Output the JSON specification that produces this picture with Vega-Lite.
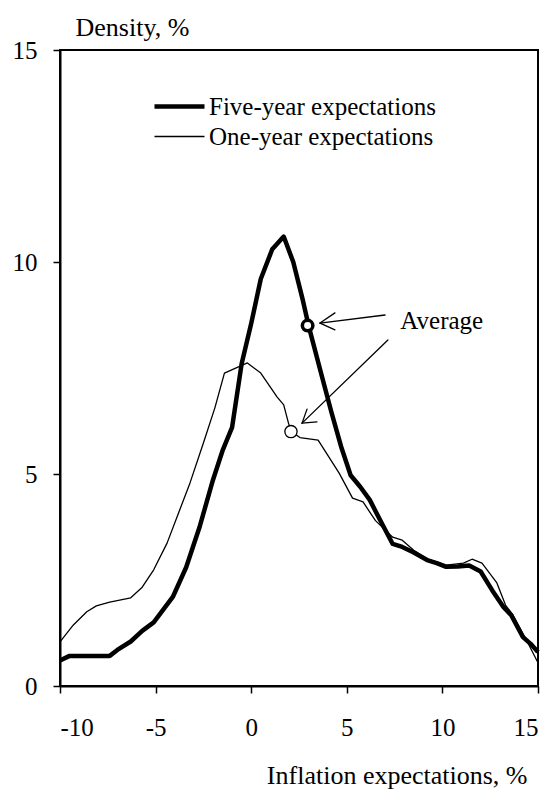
{
  "$schema": "https://vega.github.io/schema/vega-lite/v6.json",
  "width": 478,
  "height": 636,
  "autosize": {"type": "none"},
  "padding": {"left": 60, "top": 50, "right": 17, "bottom": 105},
  "background": "white",
  "config": {
    "font": "Liberation Serif",
    "view": {"stroke": "black", "strokeWidth": 2},
    "axis": {
      "domainColor": "black", "domainWidth": 2,
      "tickColor": "black", "tickWidth": 1.5, "tickSize": 7,
      "labelFont": "Liberation Serif", "labelFontSize": 25, "labelColor": "black",
      "titleFont": "Liberation Serif", "titleFontSize": 26, "titleFontWeight": "normal", "titleColor": "black",
      "grid": false
    }
  },
  "datasets": {
    "curves": [
      {"series": "Five-year expectations", "x": -10, "y": 0.6},
      {"series": "Five-year expectations", "x": -9.5, "y": 0.71},
      {"series": "Five-year expectations", "x": -9, "y": 0.71},
      {"series": "Five-year expectations", "x": -8.5, "y": 0.71},
      {"series": "Five-year expectations", "x": -8, "y": 0.71},
      {"series": "Five-year expectations", "x": -7.4, "y": 0.71},
      {"series": "Five-year expectations", "x": -7, "y": 0.85},
      {"series": "Five-year expectations", "x": -6.3, "y": 1.05},
      {"series": "Five-year expectations", "x": -5.7, "y": 1.3},
      {"series": "Five-year expectations", "x": -5.1, "y": 1.5},
      {"series": "Five-year expectations", "x": -4.6, "y": 1.8},
      {"series": "Five-year expectations", "x": -4.1, "y": 2.1},
      {"series": "Five-year expectations", "x": -3.4, "y": 2.8},
      {"series": "Five-year expectations", "x": -2.7, "y": 3.75},
      {"series": "Five-year expectations", "x": -2, "y": 4.86},
      {"series": "Five-year expectations", "x": -1.5, "y": 5.55},
      {"series": "Five-year expectations", "x": -1, "y": 6.1},
      {"series": "Five-year expectations", "x": -0.5, "y": 7.6},
      {"series": "Five-year expectations", "x": 0, "y": 8.55},
      {"series": "Five-year expectations", "x": 0.5, "y": 9.6},
      {"series": "Five-year expectations", "x": 1.1, "y": 10.3},
      {"series": "Five-year expectations", "x": 1.7, "y": 10.6},
      {"series": "Five-year expectations", "x": 2.2, "y": 10.0},
      {"series": "Five-year expectations", "x": 2.7, "y": 9.1},
      {"series": "Five-year expectations", "x": 3.0, "y": 8.5},
      {"series": "Five-year expectations", "x": 3.7, "y": 7.3},
      {"series": "Five-year expectations", "x": 4.2, "y": 6.45},
      {"series": "Five-year expectations", "x": 4.7, "y": 5.65},
      {"series": "Five-year expectations", "x": 5.2, "y": 4.97},
      {"series": "Five-year expectations", "x": 5.7, "y": 4.7},
      {"series": "Five-year expectations", "x": 6.2, "y": 4.39},
      {"series": "Five-year expectations", "x": 6.7, "y": 3.95},
      {"series": "Five-year expectations", "x": 7.4, "y": 3.35},
      {"series": "Five-year expectations", "x": 7.9, "y": 3.28},
      {"series": "Five-year expectations", "x": 8.5, "y": 3.15},
      {"series": "Five-year expectations", "x": 9.2, "y": 2.97},
      {"series": "Five-year expectations", "x": 9.7, "y": 2.9},
      {"series": "Five-year expectations", "x": 10.2, "y": 2.81},
      {"series": "Five-year expectations", "x": 10.8, "y": 2.82},
      {"series": "Five-year expectations", "x": 11.4, "y": 2.84},
      {"series": "Five-year expectations", "x": 12.0, "y": 2.7},
      {"series": "Five-year expectations", "x": 12.6, "y": 2.26},
      {"series": "Five-year expectations", "x": 13.2, "y": 1.86},
      {"series": "Five-year expectations", "x": 13.6, "y": 1.67},
      {"series": "Five-year expectations", "x": 14.2, "y": 1.16},
      {"series": "Five-year expectations", "x": 14.6, "y": 1.0},
      {"series": "Five-year expectations", "x": 15, "y": 0.8},
      {"series": "One-year expectations", "x": -10, "y": 1.04},
      {"series": "One-year expectations", "x": -9.3, "y": 1.44},
      {"series": "One-year expectations", "x": -8.6, "y": 1.75},
      {"series": "One-year expectations", "x": -8.1, "y": 1.89},
      {"series": "One-year expectations", "x": -7.4, "y": 1.98},
      {"series": "One-year expectations", "x": -6.3, "y": 2.08},
      {"series": "One-year expectations", "x": -5.7, "y": 2.33},
      {"series": "One-year expectations", "x": -5.1, "y": 2.74},
      {"series": "One-year expectations", "x": -4.4, "y": 3.37},
      {"series": "One-year expectations", "x": -3.8, "y": 4.08},
      {"series": "One-year expectations", "x": -3.2, "y": 4.79},
      {"series": "One-year expectations", "x": -2.5, "y": 5.73},
      {"series": "One-year expectations", "x": -1.9, "y": 6.56},
      {"series": "One-year expectations", "x": -1.4, "y": 7.38},
      {"series": "One-year expectations", "x": -0.2, "y": 7.62},
      {"series": "One-year expectations", "x": 0.5, "y": 7.38},
      {"series": "One-year expectations", "x": 1.35, "y": 6.82},
      {"series": "One-year expectations", "x": 1.7, "y": 6.63},
      {"series": "One-year expectations", "x": 1.95, "y": 6.2},
      {"series": "One-year expectations", "x": 2.1, "y": 6.0},
      {"series": "One-year expectations", "x": 2.55, "y": 5.86},
      {"series": "One-year expectations", "x": 3.5, "y": 5.8},
      {"series": "One-year expectations", "x": 4.6, "y": 5.02},
      {"series": "One-year expectations", "x": 5.3, "y": 4.43},
      {"series": "One-year expectations", "x": 5.85, "y": 4.34},
      {"series": "One-year expectations", "x": 6.5, "y": 3.9},
      {"series": "One-year expectations", "x": 7.4, "y": 3.51},
      {"series": "One-year expectations", "x": 7.9, "y": 3.44},
      {"series": "One-year expectations", "x": 8.5, "y": 3.2},
      {"series": "One-year expectations", "x": 9.2, "y": 3.0},
      {"series": "One-year expectations", "x": 10.2, "y": 2.85},
      {"series": "One-year expectations", "x": 11.1, "y": 2.9},
      {"series": "One-year expectations", "x": 11.55, "y": 2.99},
      {"series": "One-year expectations", "x": 12.07, "y": 2.9},
      {"series": "One-year expectations", "x": 12.85, "y": 2.43},
      {"series": "One-year expectations", "x": 13.3, "y": 1.91},
      {"series": "One-year expectations", "x": 13.7, "y": 1.67},
      {"series": "One-year expectations", "x": 14.4, "y": 1.08},
      {"series": "One-year expectations", "x": 15, "y": 0.55}
    ],
    "averages": [
      {"series": "Five-year expectations", "x": 2.95, "y": 8.5},
      {"series": "One-year expectations", "x": 2.08, "y": 6.0}
    ],
    "arrows": [
      {"x": 7.0, "y": 8.75, "x2": 3.6, "y2": 8.56},
      {"x": 4.38, "y": 8.8, "x2": 3.6, "y2": 8.56},
      {"x": 4.38, "y": 8.4, "x2": 3.6, "y2": 8.56},
      {"x": 7.15, "y": 8.16, "x2": 2.66, "y2": 6.2},
      {"x": 2.92, "y": 6.53, "x2": 2.66, "y2": 6.2},
      {"x": 3.44, "y": 6.23, "x2": 2.66, "y2": 6.2}
    ],
    "labels": [
      {"text": "Average", "x": 7.8, "y": 8.6}
    ]
  },
  "layer": [
    {
      "data": {"name": "curves"},
      "mark": {"type": "line", "color": "black", "strokeJoin": "round"},
      "encoding": {
        "x": {"field": "x", "type": "quantitative",
              "scale": {"domain": [-10, 15], "nice": false, "zero": false},
              "axis": {"values": [-10, -5, 0, 5, 10, 15], "labelPadding": 22, "labelExpr": "'' + datum.value",
                       "title": "Inflation expectations, %", "titleAnchor": "end", "titleAlign": "right",
                       "titleX": 467, "titleY": 89, "titleBaseline": "middle"}},
        "y": {"field": "y", "type": "quantitative",
              "scale": {"domain": [0, 15], "nice": false},
              "axis": {"values": [0, 5, 10, 15], "labelPadding": 16, "labelExpr": "'' + datum.value",
                       "title": "Density, %", "titleAngle": 0, "titleAlign": "left", "titleBaseline": "middle",
                       "titleX": 15, "titleY": -23}},
        "strokeWidth": {"field": "series", "type": "nominal",
                        "scale": {"domain": ["Five-year expectations", "One-year expectations"], "range": [4.5, 1.3]},
                        "legend": {"title": null, "orient": "none", "legendX": 107, "legendY": 44,
                                   "symbolType": "M-2.5,0H2.5", "symbolSize": 400, "symbolStrokeColor": "black",
                                   "symbolFillColor": "transparent",
                                   "labelFont": "Liberation Serif", "labelFontSize": 25, "labelColor": "black",
                                   "labelLimit": 0, "labelOffset": 17, "rowPadding": 4, "padding": 0}}
      }
    },
    {
      "data": {"name": "averages"},
      "transform": [{"filter": "datum.series === 'Five-year expectations'"}],
      "mark": {"type": "point", "filled": true, "fill": "white", "stroke": "black", "strokeWidth": 3.5, "size": 110, "opacity": 1},
      "encoding": {
        "x": {"field": "x", "type": "quantitative"},
        "y": {"field": "y", "type": "quantitative"}
      }
    },
    {
      "data": {"name": "averages"},
      "transform": [{"filter": "datum.series === 'One-year expectations'"}],
      "mark": {"type": "point", "filled": true, "fill": "white", "stroke": "black", "strokeWidth": 1.3, "size": 150, "opacity": 1},
      "encoding": {
        "x": {"field": "x", "type": "quantitative"},
        "y": {"field": "y", "type": "quantitative"}
      }
    },
    {
      "data": {"name": "arrows"},
      "mark": {"type": "rule", "color": "black", "strokeWidth": 1.3, "strokeCap": "round"},
      "encoding": {
        "x": {"field": "x", "type": "quantitative"},
        "y": {"field": "y", "type": "quantitative"},
        "x2": {"field": "x2"},
        "y2": {"field": "y2"}
      }
    },
    {
      "data": {"name": "labels"},
      "mark": {"type": "text", "font": "Liberation Serif", "fontSize": 25, "color": "black", "align": "left", "baseline": "middle"},
      "encoding": {
        "x": {"field": "x", "type": "quantitative"},
        "y": {"field": "y", "type": "quantitative"},
        "text": {"field": "text"}
      }
    }
  ]
}
